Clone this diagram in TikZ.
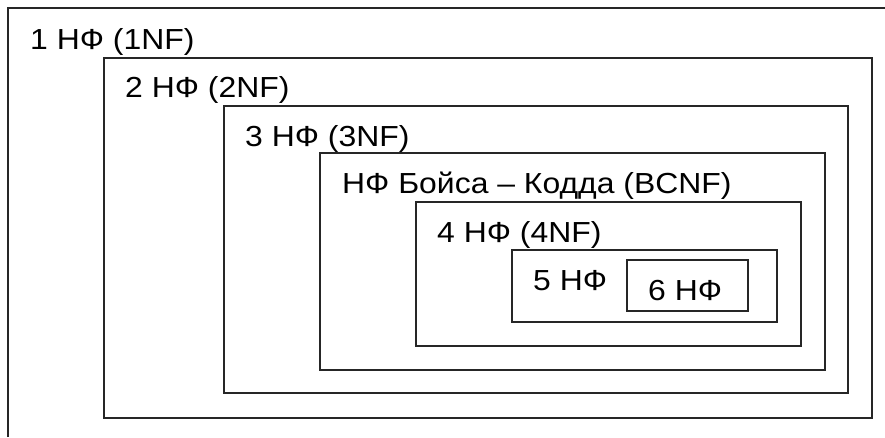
\documentclass[tikz,border=0pt]{standalone}
\usepackage{fontspec}
\setmainfont{Liberation Sans}
\newfontfamily\lblfont[FakeStretch=1.1]{Liberation Sans}
\begin{document}
\begin{tikzpicture}[x=1pt,y=-1pt,
  frame/.style={draw=black!85,line width=2pt},
  inner/.style={draw=black!85,line width=1.5pt},
  lbl/.style={anchor=base west,inner sep=0pt,font=\lblfont\fontsize{29}{34}\selectfont}]
\useasboundingbox (0,0) rectangle (885,437);
% outermost frame runs past the picture edge
\draw[frame] (8,437) -- (8,8) -- (885,8);
\draw[frame] (104,58) rectangle (872,418);
\draw[frame] (224,106) rectangle (848,393);
\draw[frame] (320,153) rectangle (825,370);
\draw[frame] (416,202) rectangle (801,346);
\draw[frame] (512,250) rectangle (777,322);
\draw[inner] (627,260) rectangle (748,311);
\node[lbl] (nf1) at (30,49) {1 НФ (1NF)};
\node[lbl] (nf2) at (125,97) {2 НФ (2NF)};
\node[lbl] (nf3) at (245,146) {3 НФ (3NF)};
\node[lbl] (bcnf) at (342,193) {НФ Бойса – Кодда (BCNF)};
\node[lbl] (nf4) at (437,242) {4 НФ (4NF)};
\node[lbl] (nf5) at (533,290) {5 НФ};
\node[lbl] (nf6) at (648,300) {6 НФ};
\end{tikzpicture}
\end{document}
